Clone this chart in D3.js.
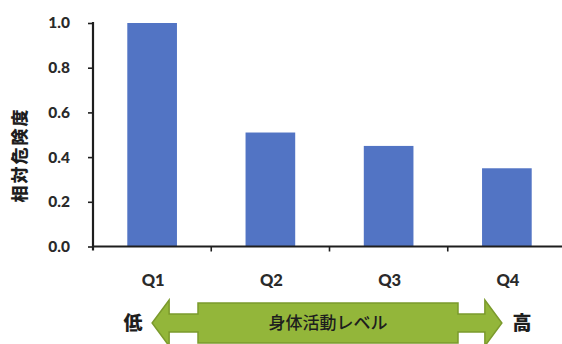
<!DOCTYPE html>
<html>
<head>
<meta charset="utf-8">
<script src="https://cdn.jsdelivr.net/npm/d3@7"></script>
<style>
  html, body { margin: 0; padding: 0; background: #fff; }
  svg { display: block; }
</style>
</head>
<body>
<svg id="chart" width="562" height="344"></svg>
<script>
// Relative risk by physical activity quartile
const categories = ["Q1", "Q2", "Q3", "Q4"];
const relativeRisk = [1.0, 0.51, 0.45, 0.35];
const yTicks = [0.0, 0.2, 0.4, 0.6, 0.8, 1.0];
const yTitle = "相対危険度";
const arrowLabel = "身体活動レベル";
const lowLabel = "低";
const highLabel = "高";

const W = 562, H = 344;
const svg = d3.select("#chart");
const latin = "Lato, 'Open Sans', 'Liberation Sans', sans-serif";
const cjk = "'Noto Sans CJK JP', 'Noto Sans', sans-serif";

const x = d3.scaleBand().domain(categories).range([93, 566]).paddingInner(0.58).paddingOuter(0.29);
const y = d3.scaleLinear().domain([0, 1]).range([246.5, 23]);

// bars
svg.append("g").selectAll("rect").data(categories).join("rect")
  .attr("x", d => x(d))
  .attr("width", x.bandwidth())
  .attr("y", (d, i) => y(relativeRisk[i]))
  .attr("height", (d, i) => y(0) - y(relativeRisk[i]))
  .attr("fill", "#5274c4");

// y axis
const yAxis = svg.append("g").attr("transform", "translate(93,0)")
  .call(d3.axisLeft(y).tickValues(yTicks).tickFormat(d3.format(".1f")).tickSize(5).tickPadding(18));
yAxis.select(".domain").attr("stroke", "#1e1e1e").attr("stroke-width", 2.2).attr("d", `M0,${y(1) - 1}V${y(0) + 4}`);
yAxis.selectAll(".tick line").attr("stroke", "#1e1e1e").attr("stroke-width", 1.6);
yAxis.selectAll(".tick text")
  .attr("font-family", latin).attr("font-weight", 900).attr("font-size", 15.5).attr("fill", "#2a2a2a");

// x axis baseline with ticks on category boundaries
const xg = svg.append("g");
xg.append("line").attr("x1", 93).attr("x2", W).attr("y1", y(0)).attr("y2", y(0))
  .attr("stroke", "#1e1e1e").attr("stroke-width", 2.2);
const step = x.step();
xg.selectAll("line.b").data(categories.slice(1)).join("line").attr("class", "b")
  .attr("x1", d => x(d) - step * x.paddingInner() / 2)
  .attr("x2", d => x(d) - step * x.paddingInner() / 2)
  .attr("y1", y(0)).attr("y2", y(0) + 5)
  .attr("stroke", "#1e1e1e").attr("stroke-width", 1.6);

// category labels
svg.append("g").selectAll("text").data(categories).join("text")
  .attr("x", d => x(d) + x.bandwidth() / 2 + 1)
  .attr("y", 286)
  .attr("text-anchor", "middle")
  .attr("font-family", latin).attr("font-weight", 900).attr("font-size", 16.5).attr("fill", "#2a2a2a")
  .text(d => d);

// y title
svg.append("text")
  .attr("transform", "translate(26,155) rotate(-90)")
  .attr("text-anchor", "middle")
  .attr("font-family", cjk).attr("font-weight", 900).attr("font-size", 17)
  .attr("letter-spacing", 2).attr("fill", "#1e1e1e")
  .text(yTitle);

// double-headed arrow for activity level
const cy = 323;
const tipL = x(categories[0]) + x.bandwidth() / 2;
const tipR = x(categories[3]) + x.bandwidth() / 2 - 5;
const headLen = 17, headHalf = 23, shaftHalf = 9, boxHalf = 20;
const boxL = 198, boxR = 458;
const arrowPath = d3.path();
arrowPath.moveTo(tipL, cy);
arrowPath.lineTo(tipL + headLen, cy - headHalf);
arrowPath.lineTo(tipL + headLen, cy - shaftHalf);
arrowPath.lineTo(boxL, cy - shaftHalf);
arrowPath.lineTo(boxL, cy - boxHalf);
arrowPath.lineTo(boxR, cy - boxHalf);
arrowPath.lineTo(boxR, cy - shaftHalf);
arrowPath.lineTo(tipR - headLen, cy - shaftHalf);
arrowPath.lineTo(tipR - headLen, cy - headHalf);
arrowPath.lineTo(tipR, cy);
arrowPath.lineTo(tipR - headLen, cy + headHalf);
arrowPath.lineTo(tipR - headLen, cy + shaftHalf);
arrowPath.lineTo(boxR, cy + shaftHalf);
arrowPath.lineTo(boxR, cy + boxHalf);
arrowPath.lineTo(boxL, cy + boxHalf);
arrowPath.lineTo(boxL, cy + shaftHalf);
arrowPath.lineTo(tipL + headLen, cy + shaftHalf);
arrowPath.lineTo(tipL + headLen, cy + headHalf);
arrowPath.closePath();
svg.append("path").attr("d", arrowPath.toString())
  .attr("fill", "#93b63a").attr("stroke", "#7b9a2c").attr("stroke-width", 1.5)
  .attr("stroke-linejoin", "miter");

svg.append("text")
  .attr("x", (boxL + boxR) / 2).attr("y", cy + 6)
  .attr("text-anchor", "middle")
  .attr("font-family", cjk).attr("font-weight", 500).attr("font-size", 17).attr("fill", "#1e1e1e")
  .text(arrowLabel);

svg.append("text")
  .attr("x", 133).attr("y", cy + 7)
  .attr("text-anchor", "middle")
  .attr("font-family", cjk).attr("font-weight", 900).attr("font-size", 19).attr("fill", "#1e1e1e")
  .text(lowLabel);

svg.append("text")
  .attr("x", 522).attr("y", cy + 7)
  .attr("text-anchor", "middle")
  .attr("font-family", cjk).attr("font-weight", 900).attr("font-size", 19).attr("fill", "#1e1e1e")
  .text(highLabel);
</script>
</body>
</html>
